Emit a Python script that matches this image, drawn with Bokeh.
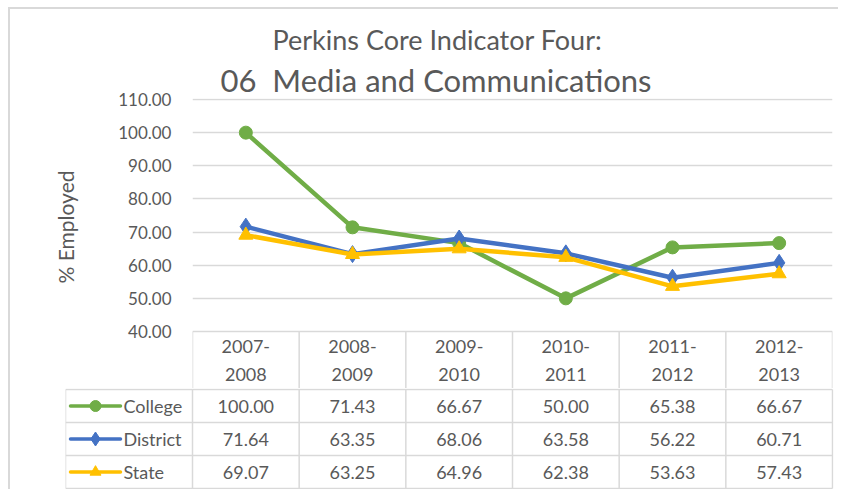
from bokeh.plotting import figure
from bokeh.models import Range1d, Title, FixedTicker, PrintfTickFormatter
from bokeh.layouts import column
from bokeh.embed import file_html
from bokeh.resources import INLINE
from bokeh.core.properties import value

# ---------------- data ----------------
years = ["2007-2008", "2008-2009", "2009-2010", "2010-2011", "2011-2012", "2012-2013"]
college = [100.00, 71.43, 66.67, 50.00, 65.38, 66.67]
district = [71.64, 63.35, 68.06, 63.58, 56.22, 60.71]
state = [69.07, 63.25, 64.96, 62.38, 53.63, 57.43]
series_names = ["College", "District", "State"]
y_ticks = [40, 50, 60, 70, 80, 90, 100, 110]
title_line1 = "Perkins Core Indicator Four:"
title_line2 = "06 \u00a0Media and Communications"
y_label = "% Employed"

# ---------------- style / layout ----------------
FONT = "Lato"
TXT = "#595959"
GRID = "#d9d9d9"
colors = ["#70AD47", "#4472C4", "#FFC000"]
markers = ["circle", "diamond", "triangle"]
msizes = [13, 17, 14]

FIG_W = 828
LEFT = 182          # chart frame left border
RIGHT = 6
COL_W = (FIG_W - LEFT - RIGHT) / len(years)
T_LEFT = 55         # table frame left border
LEG_W = (LEFT - T_LEFT) / COL_W
TOP = 89
VAL_H = 232         # pixels between 40 and 110
PPU = VAL_H / 70.0
HEAD_H = 57         # header row height below the 40 line
ROW_H = 33
PLOT_H = 1 + VAL_H + HEAD_H
EDGE = "#d9d9d9"

xs = [i + 0.5 for i in range(len(years))]
series = [college, district, state]
ymin, ymax = min(y_ticks), max(y_ticks)

# ---------------- chart (with header row of the data table) ----------------
y_lo = ymin - HEAD_H / PPU
p = figure(width=FIG_W, height=TOP + PLOT_H, output_backend="svg", toolbar_location=None,
           x_range=Range1d(0, len(years)), y_range=Range1d(y_lo, ymax + 1 / PPU),
           x_axis_location=None, min_border_left=LEFT, min_border_right=RIGHT,
           min_border_top=TOP, min_border_bottom=0, outline_line_color=None,
           frame_align=False,
           styles={"box-shadow": f"0 -2px 0 0 {EDGE}, -2px 0 0 0 {EDGE}, -2px -2px 0 0 {EDGE}"})
p.xgrid.visible = False
p.ygrid.ticker = FixedTicker(ticks=y_ticks)
p.ygrid.grid_line_color = GRID
p.ygrid.grid_line_width = 1.5
ax = p.yaxis[0]
ax.ticker = FixedTicker(ticks=y_ticks)
ax.bounds = (ymin, ymax)
ax.formatter = PrintfTickFormatter(format="%.2f")
ax.axis_line_color = None
ax.major_tick_line_color = None
ax.minor_tick_line_color = None
ax.major_label_text_font = FONT
ax.major_label_text_font_size = "17px"
ax.major_label_text_color = TXT
ax.major_label_standoff = 15

# y axis title, placed along the value part of the axis
p.add_layout(Title(text=y_label, align="left", offset=HEAD_H + 48, text_font=FONT,
                   text_font_size="21px", text_font_style="normal", text_color=TXT,
                   standoff=76), "left")

for vals, c, m, s in zip(series, colors, markers, msizes):
    p.line(xs, vals, line_color=c, line_width=4.5, line_join="round")
    p.scatter(xs, vals, marker=m, size=s, fill_color=c, line_color=c)

# header cells of the data table
vx = list(range(len(years) + 1))
p.segment(x0=vx, y0=[ymin] * len(vx), x1=vx, y1=[y_lo] * len(vx),
          line_color=GRID, line_width=1.5)
hdr = [y.replace("-", "-\n") for y in years]
p.text(x=xs, y=[ymin - HEAD_H / 2 / PPU] * len(xs), text=hdr, text_align="center",
       text_baseline="middle", text_font=value(FONT), text_font_size="18px",
       text_color=TXT, text_line_height=1.3)

p.add_layout(Title(text=title_line2, align="left", offset=28, text_font=FONT,
                   text_font_size="31px", text_font_style="normal", text_color=TXT,
                   standoff=0), "above")
p.add_layout(Title(text=title_line1, align="left", offset=80, text_font=FONT,
                   text_font_size="27px", text_font_style="normal", text_color=TXT,
                   standoff=6), "above")

# ---------------- data table body ----------------
n_rows = len(series_names)
ypad = 1 / ROW_H
xpad = 1 / COL_W
t = figure(width=FIG_W, height=n_rows * ROW_H + 2, output_backend="svg",
           toolbar_location=None,
           x_range=Range1d(-LEG_W, len(years) + xpad), y_range=Range1d(-ypad, n_rows + ypad),
           x_axis_location=None, y_axis_location=None,
           min_border_left=T_LEFT, min_border_right=RIGHT - 1,
           min_border_top=0, min_border_bottom=0, outline_line_color=None,
           frame_align=False, styles={"box-shadow": f"-2px 0 0 0 {EDGE}"})
t.grid.visible = False

hy = list(range(n_rows + 1))
t.segment(x0=[-LEG_W] * len(hy), y0=hy, x1=[len(years)] * len(hy), y1=hy,
          line_color=GRID, line_width=1.5)
vx2 = [-LEG_W] + vx
t.segment(x0=vx2, y0=[0] * len(vx2), x1=vx2, y1=[n_rows] * len(vx2),
          line_color=GRID, line_width=1.5)

for r, (name, vals, c, m) in enumerate(zip(series_names, series, colors, markers)):
    yc = n_rows - r - 0.5
    t.text(x=xs, y=[yc] * len(xs), text=["%.2f" % v for v in vals], text_align="center",
           text_baseline="middle", text_font=value(FONT), text_font_size="18px",
           text_color=TXT)
    lx0 = -LEG_W + 5 / COL_W
    lx1 = -LEG_W + 55 / COL_W
    t.line([lx0, lx1], [yc, yc], line_color=c, line_width=3.5, line_cap="round")
    t.scatter([-LEG_W + 30 / COL_W], [yc], marker=m, size=11 if m != "diamond" else 14,
              fill_color=c, line_color=c)
    t.text(x=[-LEG_W + 58 / COL_W], y=[yc], text=[name], text_align="left",
           text_baseline="middle", text_font=value(FONT), text_font_size="18px",
           text_color=TXT)

layout = column(p, t, spacing=0,
                styles={"position": "relative", "left": "10px", "top": "9px"})

open("out.html", "w").write(file_html(layout, INLINE))
